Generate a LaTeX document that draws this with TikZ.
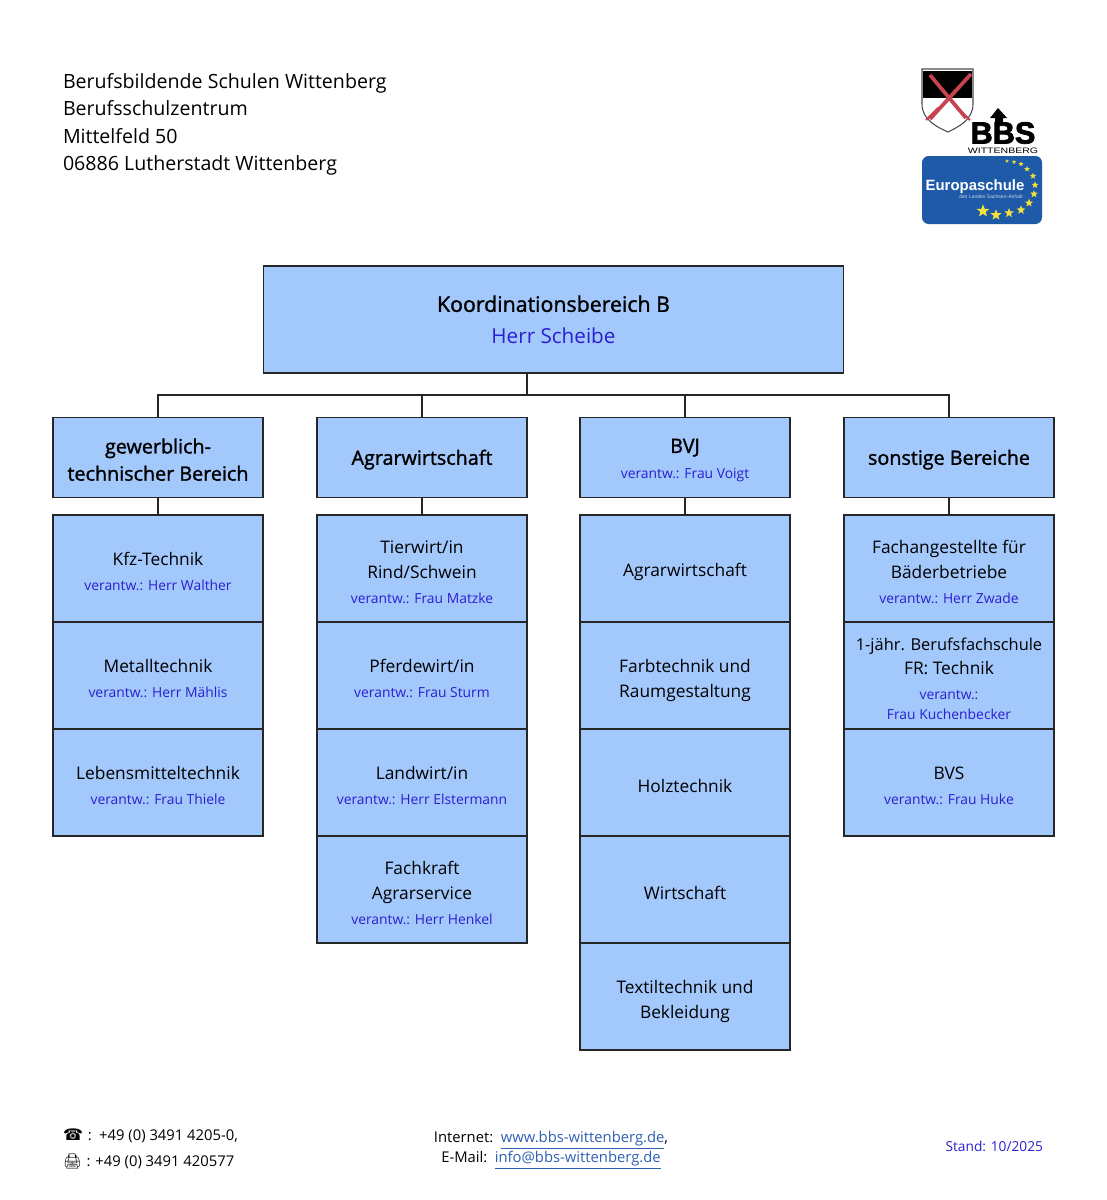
\documentclass[tikz,border=0pt]{standalone}
\usepackage{fontspec}
\usepackage{graphicx}
\setmainfont{Open Sans}
\newfontfamily\headfont[FakeBold=1.4]{Open Sans}
\newfontfamily\symfont{DejaVu Sans}
\newfontfamily\emojifont{Noto Emoji}
\newfontfamily\logofont{Liberation Sans}
\newfontfamily\logoheavy[FakeBold=2.5]{Liberation Sans Bold}
\usepackage{xcolor}
\usetikzlibrary{positioning,shapes.geometric}
\definecolor{boxblue}{HTML}{A3C8FC}
\definecolor{nameblue}{HTML}{2B1FD0}
\definecolor{linkblue}{HTML}{2F5FB3}
\definecolor{euroblue}{HTML}{1F5AA8}
\definecolor{swordred}{HTML}{C8434F}
\definecolor{stargold}{HTML}{F5E33A}
\newcommand{\verantw}[1]{{\fontsize{10.4}{18.75}\selectfont\color{nameblue}#1}}
\newcommand{\lift}{\rule{0pt}{14.5pt}}
\newcommand{\liftmore}{\rule{0pt}{17.5pt}}

\begin{document}
\begin{tikzpicture}[
      x=0.75pt, y=-0.75pt,
      node distance=13pt,
      font=\fontsize{13}{18.75}\selectfont,
      box/.style={draw=black!85, line width=1.1pt, fill=boxblue, align=center,
                  outer sep=0pt, inner sep=1pt, minimum width=157.75pt},
      topbox/.style={box, minimum width=435pt, minimum height=80.5pt,
                     font=\headfont\fontsize{16}{22.5}\selectfont},
      head/.style={box, minimum height=60.25pt,
                   font=\headfont\fontsize{14.8}{20.4}\selectfont},
      cell/.style={box, minimum height=80.25pt},
      conn/.style={draw=black!85, line width=1.1pt},
      plain/.style={inner sep=0pt, outer sep=0pt},
      foot/.style={plain, font=\fontsize{11.1}{15}\selectfont},
      euro/.style={star, star points=5, star point ratio=2.4, fill=stargold,
                   inner sep=0pt}
    ]
    \useasboundingbox (0,0) rectangle (1107,1200);

    % address
    \node[plain, anchor=north west, align=left,
          font=\fontsize{14.7}{20.6}\selectfont] (addr) at (63,73.5)
      {Berufsbildende Schulen Wittenberg\\ Berufsschulzentrum\\
       Mittelfeld 50\\ 06886 Lutherstadt Wittenberg};

    % top box
    \node[topbox] (koord) at (553.5,319.5)
      {Koordinationsbereich B\\[1pt]
       {\normalfont\fontsize{15.5}{22.5}\selectfont\color{nameblue}Herr Scheibe}};

    % column heads
    \node[head] (gewerb) at (158,457.5) {\lift gewerblich-\\ technischer Bereich};
    \node[head, right=40.25pt of gewerb] (agrar) {\lift Agrarwirtschaft};
    \node[head, right=39.5pt of agrar] (bvj)
      {\lift BVJ\\[-1.5pt] {\normalfont\verantw{verantw.: Frau Voigt}}};
    \node[head, right=40.25pt of bvj] (sonst) {\lift sonstige Bereiche};

    % first column
    \node[cell, below=of gewerb] (kfz) {\lift Kfz-Technik\\ \verantw{verantw.: Herr Walther}};
    \node[cell, below=0pt of kfz] (metall) {\lift Metalltechnik\\ \verantw{verantw.: Herr Mählis}};
    \node[cell, below=0pt of metall] (lebens) {\lift Lebensmitteltechnik\\ \verantw{verantw.: Frau Thiele}};

    % second column
    \node[cell, below=of agrar] (tier) {\lift Tierwirt/in\\ Rind/Schwein\\ \verantw{verantw.: Frau Matzke}};
    \node[cell, below=0pt of tier] (pferd) {\lift Pferdewirt/in\\ \verantw{verantw.: Frau Sturm}};
    \node[cell, below=0pt of pferd] (land) {\lift Landwirt/in\\ \verantw{verantw.: Herr Elstermann}};
    \node[cell, below=0pt of land] (fach) {\lift Fachkraft\\ Agrarservice\\ \verantw{verantw.: Herr Henkel}};

    % third column
    \node[cell, below=of bvj] (bagrar) {\lift Agrarwirtschaft};
    \node[cell, below=0pt of bagrar] (farb) {\liftmore Farbtechnik und\\ Raumgestaltung};
    \node[cell, below=0pt of farb] (holz) {\lift Holztechnik};
    \node[cell, below=0pt of holz] (wirt) {\lift Wirtschaft};
    \node[cell, below=0pt of wirt] (textil) {\liftmore Textiltechnik und\\ Bekleidung};

    % fourth column
    \node[cell, below=of sonst] (baeder) {\lift Fachangestellte für\\ Bäderbetriebe\\ \verantw{verantw.: Herr Zwade}};
    \node[cell, below=0pt of baeder] (fachsch)
      {{\fontsize{12.3}{18.75}\selectfont\lift 1-jähr. Berufsfachschule}\\[-1pt] FR: Technik\\
      \verantw{verantw.:}\\[-4pt] \verantw{Frau Kuchenbecker}};
    \node[cell, below=0pt of fachsch] (bvs) {\lift BVS\\ \verantw{verantw.: Frau Huke}};

    % connectors
    \coordinate (busmid) at (agrar.east |- 0,395);
    \draw[conn] (koord.south -| agrar.east) -- (busmid);
    \foreach \a in {gewerb,agrar,bvj,sonst}
      \draw[conn] (\a.north) |- (busmid);
    \foreach \a/\b in {gewerb/kfz, agrar/tier, bvj/bagrar, sonst/baeder}
      \draw[conn] (\a) -- (\b);

    % footer
    \node[foot, anchor=west] (phone) at (63,1136)
      {{\symfont\fontsize{12}{15}\selectfont☎}\,\,:\,\,\,+49 (0) 3491 4205-0,};
    \node[foot, anchor=west] (fax) at (63,1161)
      {{\emojifont\fontsize{11}{15}\selectfont🖨}\,\,:\,\,+49 (0) 3491 420577};
    \node[foot, align=center] (web) at (551,1150)
      {Internet:\, {\color{linkblue}\underline{www.bbs-wittenberg.de}},\\
       E-Mail:\, {\color{linkblue}\underline{info@bbs-wittenberg.de}}};
    \node[foot, text=nameblue, anchor=east, font=\fontsize{10.3}{15}\selectfont] (stand) at (1043,1146) {Stand: 10/2025};

    % logo: shield
    \fill[white, draw=black!70, line width=0.8pt]
      (922,69) -- (973,69) -- (973,104) .. controls (973,120) and (958,127) .. (948,132)
      .. controls (937,127) and (922,120) .. (922,104) -- cycle;
    \fill[black] (923,71) rectangle (972,98);
    \draw[swordred, line width=2.8pt] (930,75) -- (966,118);
    \draw[swordred, line width=2.8pt] (971,74) -- (930,119);
    \draw[swordred, line width=1.6pt] (926,120) -- (938,108);
    \draw[swordred, line width=1.6pt] (970,120) -- (957,108);

    % logo: bbs
    \node[plain, font=\logoheavy\fontsize{23}{23}\selectfont] (bbs) at (1003,133) {BBS};
    \fill[black] (998,108) -- (1007,118) -- (1003,118) -- (1003,124) -- (995,124)
      -- (995,118) -- (990,118) -- cycle;
    \node[plain, font=\logofont\fontsize{7.9}{8}\selectfont] (witt) at (1003,150.5)
      {\scalebox{1}[0.75]{WITTENBERG}};

    % logo: europaschule
    \fill[euroblue] (922,156) [rounded corners=5pt] rectangle (1042,224);
    \node[plain, text=white, font=\logofont\bfseries\fontsize{11.2}{12}\selectfont] (europa) at (975,186.5) {Europaschule};
    \node[plain, text=white!75!euroblue, font=\logofont\fontsize{3.8}{4}\selectfont] (land2) at (991,197) {des Landes Sachsen-Anhalt};
    \foreach \n/\px/\py/\sz in {1/983/211/10, 2/996/215/8.5, 3/1009/213/7.5, 4/1021/210/7,
                                5/1029/203/6.5, 6/1034/194/6, 7/1035/185/5.5, 8/1033/176/5,
                                9/1027/169/4.5, 10/1021/164/4, 11/1014/162/3.5, 12/1007/161/3}
      \node[euro, minimum size=\sz pt] (star\n) at (\px,\py) {};
  \end{tikzpicture}
\end{document}
